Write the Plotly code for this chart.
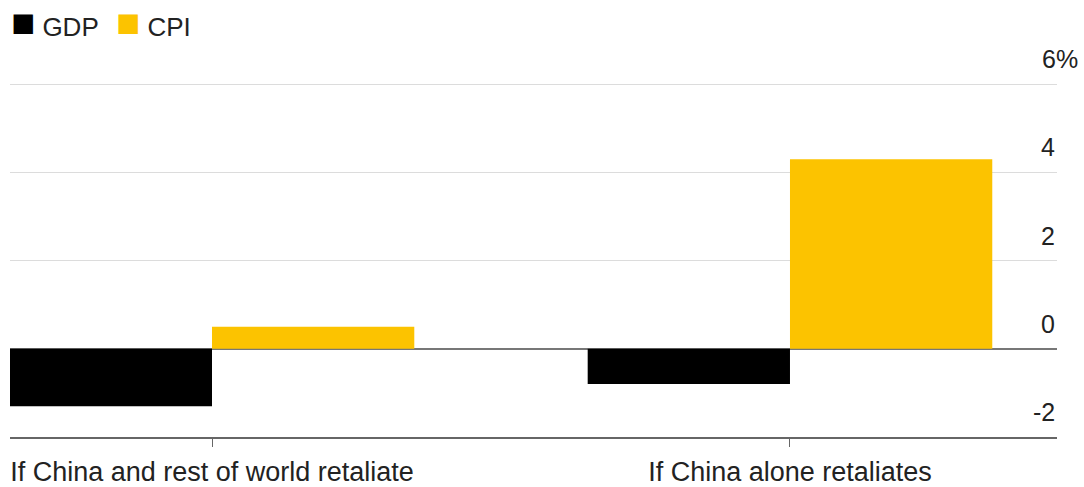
import plotly.graph_objects as go

# Scenario categories and modeled impact (percentage points)
categories = ["If China and rest of world retaliate", "If China alone retaliates"]
gdp = [-1.3, -0.8]
cpi = [0.5, 4.3]

# Right-hand axis ticks
tick_vals = [-2, 0, 2, 4, 6]
tick_text = ["-2", "0", "2", "4", "6%"]

FONT = "Liberation Sans, Arial, sans-serif"
TEXT = "#222222"
YELLOW = "#FCC300"

W, H = 1084, 487
M_L, M_R, M_T, M_B = 10, 27, 83, 50
PLOT_W = W - M_L - M_R

series = [("GDP", gdp, "#000000"), ("CPI", cpi, YELLOW)]

fig = go.Figure()
for name, vals, color in series:
    fig.add_trace(go.Bar(name=name, x=categories, y=vals,
                         marker=dict(color=color, line=dict(width=0)),
                         showlegend=False))

annotations = []

# Key: coloured squares followed by series names, top-left (left edges in page pixels)
key_left_px = [9, 114]
for (name, _, color), px in zip(series, key_left_px):
    annotations.append(dict(
        x=(px - M_L) / PLOT_W, xref="paper", xanchor="left",
        y=1, yref="paper", yanchor="bottom", yshift=37,
        text=f'<span style="color:{color};font-size:40px">■</span> {name}',
        showarrow=False, font=dict(family=FONT, size=26, color=TEXT),
    ))

# Value labels sit just above their gridlines, right-aligned at the plot edge
for v, t in zip(tick_vals, tick_text):
    annotations.append(dict(
        x=1, xref="paper", y=v, yref="y",
        text=t, showarrow=False,
        xanchor="right", yanchor="bottom",
        xshift=(23 if t.endswith("%") else 0), yshift=9,
        font=dict(family=FONT, size=25, color=TEXT),
    ))

fig.update_layout(
    width=W, height=H,
    margin=dict(l=M_L, r=M_R, t=M_T, b=M_B),
    plot_bgcolor="white", paper_bgcolor="white",
    barmode="group", bargap=0.3, bargroupgap=0,
    font=dict(family=FONT, size=27, color=TEXT),
    showlegend=False,
    xaxis=dict(
        type="category", range=[-0.3495, 1.462],
        showline=True, linecolor="#666666", linewidth=2,
        ticks="outside", ticklen=8, tickcolor="#666666", tickwidth=1,
        showgrid=False, tickfont=dict(family=FONT, size=27, color=TEXT),
        ticklabelstandoff=2, automargin=False,
        fixedrange=True,
    ),
    yaxis=dict(
        range=[-2, 6.03], tickvals=tick_vals, showticklabels=False,
        showgrid=True, gridcolor="#dcdcdc", gridwidth=1,
        zeroline=True, zerolinecolor="#777777", zerolinewidth=1.5,
        side="right", fixedrange=True, automargin=False,
    ),
    annotations=annotations,
)

fig.write_html("out.html")
